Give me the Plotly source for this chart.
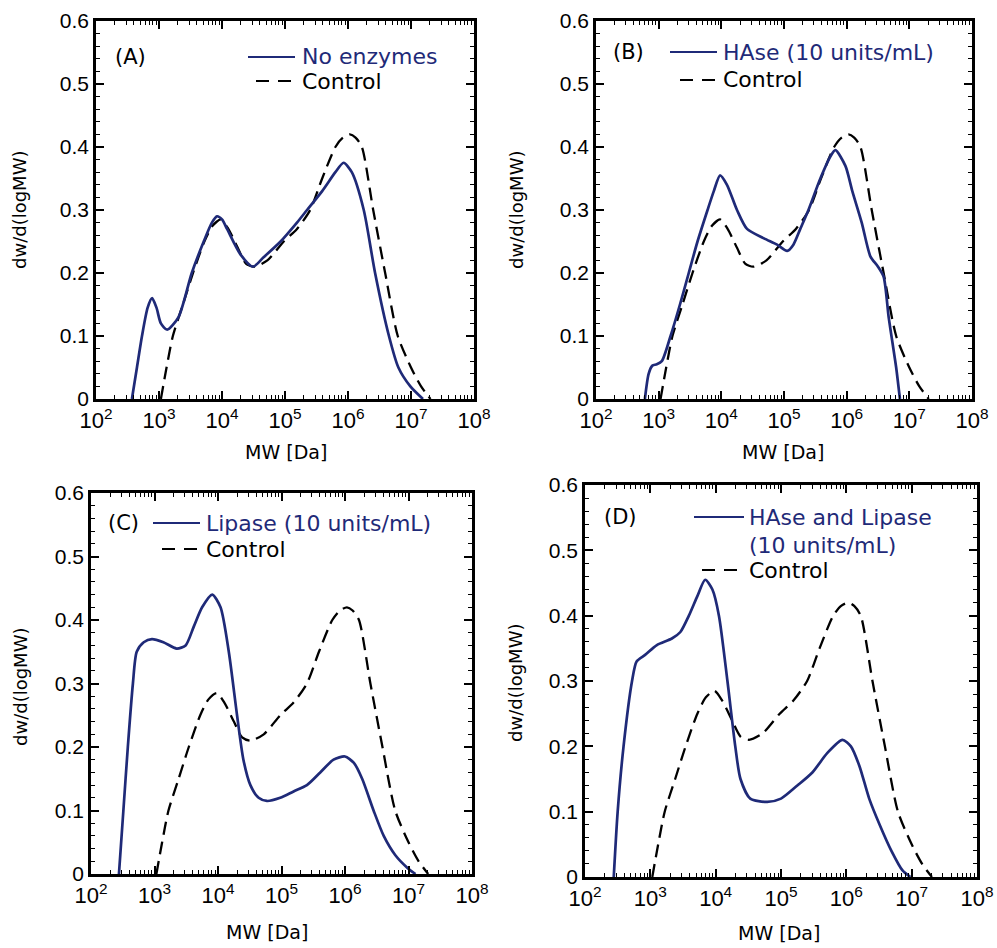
import plotly.graph_objects as go
from plotly.subplots import make_subplots

# ---------------- data (x stored as log10(MW), y = dw/d(logMW)) ----------------
control_logmw = [3.03, 3.12, 3.22, 3.38, 3.54, 3.72, 3.85, 3.98, 4.10, 4.25, 4.38, 4.51,
                 4.72, 4.98, 5.19, 5.40, 5.59, 5.80, 5.92, 6.03, 6.12, 6.22, 6.40, 6.59,
                 6.79, 7.00, 7.16, 7.31]
control_vals = [0.0, 0.05, 0.10, 0.15, 0.20, 0.25, 0.275, 0.285, 0.27, 0.24, 0.215, 0.21,
                0.22, 0.25, 0.27, 0.30, 0.35, 0.40, 0.415, 0.42, 0.415, 0.40, 0.30, 0.20,
                0.10, 0.05, 0.02, 0.0]

a_logmw = [2.57, 2.65, 2.73, 2.82, 2.89, 2.96, 3.03, 3.13, 3.31, 3.52, 3.71, 3.84, 3.92,
           4.00, 4.08, 4.29, 4.49, 4.66, 4.93, 5.19, 5.35, 5.59, 5.80, 5.93, 6.06, 6.25,
           6.43, 6.65, 6.80, 6.99, 7.19]
a_vals = [0.0, 0.05, 0.10, 0.145, 0.16, 0.145, 0.12, 0.11, 0.13, 0.20, 0.25, 0.28, 0.29,
          0.285, 0.27, 0.23, 0.21, 0.225, 0.25, 0.28, 0.30, 0.33, 0.36, 0.375, 0.36, 0.30,
          0.20, 0.10, 0.05, 0.02, 0.0]

b_logmw = [2.78, 2.84, 2.90, 2.97, 3.05, 3.19, 3.34, 3.48, 3.62, 3.78, 3.88, 3.98, 4.09,
           4.25, 4.41, 4.68, 4.89, 5.05, 5.15, 5.26, 5.39, 5.58, 5.74, 5.82, 5.98, 6.09,
           6.24, 6.38, 6.50, 6.59, 6.67, 6.73, 6.79, 6.85]
b_vals = [0.0, 0.04, 0.053, 0.055, 0.06, 0.10, 0.15, 0.20, 0.25, 0.30, 0.33, 0.355, 0.34,
          0.30, 0.27, 0.255, 0.245, 0.235, 0.245, 0.27, 0.30, 0.35, 0.385, 0.395, 0.37,
          0.33, 0.28, 0.226, 0.21, 0.194, 0.13, 0.09, 0.05, 0.0]

c_logmw = [2.44, 2.51, 2.58, 2.66, 2.72, 2.83, 2.96, 3.14, 3.35, 3.49, 3.62, 3.75, 3.91,
           4.04, 4.17, 4.30, 4.40, 4.51, 4.64, 4.77, 4.98, 5.19, 5.40, 5.61, 5.82, 6.00,
           6.14, 6.27, 6.45, 6.61, 6.79, 6.98, 7.11]
c_vals = [0.0, 0.10, 0.20, 0.30, 0.35, 0.365, 0.37, 0.365, 0.355, 0.36, 0.39, 0.42, 0.44,
          0.42, 0.35, 0.25, 0.18, 0.14, 0.12, 0.115, 0.12, 0.13, 0.14, 0.16, 0.18, 0.185,
          0.175, 0.15, 0.10, 0.06, 0.03, 0.01, 0.0]

d_logmw = [2.44, 2.50, 2.59, 2.72, 2.79, 2.92, 3.10, 3.33, 3.46, 3.59, 3.72, 3.84, 3.95,
           4.05, 4.18, 4.30, 4.38, 4.53, 4.79, 5.00, 5.25, 5.48, 5.71, 5.94, 6.07, 6.20,
           6.35, 6.51, 6.69, 6.86, 6.98]
d_vals = [0.0, 0.10, 0.20, 0.30, 0.33, 0.34, 0.355, 0.365, 0.375, 0.40, 0.43, 0.455, 0.44,
          0.40, 0.30, 0.20, 0.15, 0.12, 0.115, 0.12, 0.14, 0.16, 0.19, 0.21, 0.20, 0.17,
          0.12, 0.08, 0.04, 0.01, 0.0]

panel_letters = ["(A)", "(B)", "(C)", "(D)"]
series_names = ["No enzymes", "HAse (10 units/mL)", "Lipase (10 units/mL)",
                "HAse and Lipase<br>(10 units/mL)"]
control_name = "Control"
x_title = "MW [Da]"
y_title = "dw/d(logMW)"
x_tick_exps = [2, 3, 4, 5, 6, 7, 8]
y_tick_vals = [0, 0.1, 0.2, 0.3, 0.4, 0.5, 0.6]

W, H = 997, 948
BLUE = "#1f2a78"
TICKFONT = "Liberation Sans, Arial, sans-serif"
TEXTFONT = "DejaVu Sans, sans-serif"

# plot frames in pixels: (left, right, top, bottom)
frames = [(96, 474, 21, 399), (596, 972, 21, 399), (91, 472, 493, 874), (585, 977, 485, 877)]
# axis-title centres in pixels: (x-title x, y), (y-title x, y)
title_pos = [((286, 452), (20, 210)), ((783, 452), (517, 210)),
             ((267, 932), (20, 687)), ((779, 933), (515, 683))]

fig = make_subplots(rows=2, cols=2)
blue_sets = [(a_logmw, a_vals), (b_logmw, b_vals), (c_logmw, c_vals), (d_logmw, d_vals)]
cells = [(1, 1), (1, 2), (2, 1), (2, 2)]

for i, ((lx, ly), (r, c)) in enumerate(zip(blue_sets, cells)):
    fig.add_trace(go.Scatter(x=[10 ** v for v in control_logmw], y=control_vals, mode="lines",
                             line=dict(color="black", width=2.3, dash="13px,7px", shape="spline",
                                       smoothing=0.7),
                             showlegend=False, name=control_name), row=r, col=c)
    fig.add_trace(go.Scatter(x=[10 ** v for v in lx], y=ly, mode="lines",
                             line=dict(color=BLUE, width=2.7, shape="spline", smoothing=0.7),
                             showlegend=False, name=series_names[i]), row=r, col=c)

minor_x = [k * 10 ** e for e in range(2, 8) for k in range(2, 10)]


def px2paper(x, y):
    return x / W, 1 - y / H


annotations = []
shapes = []
for i, (L, R, T, B) in enumerate(frames):
    sfx = "" if i == 0 else str(i + 1)
    fig.layout["xaxis" + sfx].update(
        domain=[L / W, R / W], type="log", range=[2, 8], automargin=False,
        tickvals=[10 ** e for e in x_tick_exps],
        ticktext=["10<sup>%d</sup>" % e for e in x_tick_exps],
        ticks="inside", ticklen=8, tickwidth=1.5, tickcolor="black",
        showline=True, linecolor="black", linewidth=2.6, mirror="allticks",
        showgrid=False, zeroline=False,
        tickfont=dict(family=TICKFONT, size=22, color="black"),
        minor=dict(tickvals=minor_x, ticks="inside", ticklen=4, tickcolor="black",
                   tickwidth=1.2, showgrid=False),
    )
    fig.layout["yaxis" + sfx].update(
        domain=[1 - B / H, 1 - T / H], range=[0, 0.6], automargin=False,
        tickvals=y_tick_vals, ticktext=["0" if v == 0 else "%.1f" % v for v in y_tick_vals],
        ticks="inside", ticklen=8, tickwidth=1.5, tickcolor="black",
        showline=True, linecolor="black", linewidth=2.6, mirror="allticks",
        showgrid=False, zeroline=False,
        tickfont=dict(family=TICKFONT, size=21, color="black"),
        minor=dict(dtick=0.02, ticks="inside", ticklen=4, tickcolor="black",
                   tickwidth=1.2, showgrid=False),
    )
    (xtx, xty), (ytx, yty) = title_pos[i]
    X, Y = px2paper(xtx, xty)
    annotations.append(dict(x=X, y=Y, xref="paper", yref="paper", text=x_title,
                            showarrow=False, xanchor="center", yanchor="middle",
                            font=dict(family=TEXTFONT, size=19, color="black")))
    X, Y = px2paper(ytx, yty)
    annotations.append(dict(x=X, y=Y, xref="paper", yref="paper", text=y_title,
                            showarrow=False, xanchor="center", yanchor="middle", textangle=-90,
                            font=dict(family=TEXTFONT, size=18, color="black")))

# legend-like labels drawn in paper coordinates (pixel positions of the reference)
legend_specs = [
    # letter pos, blue sample (x0,x1,y), text x, control sample (x0,x1,y)
    ((130, 57), (248, 295, 57), 300, (256, 295, 81)),
    ((628, 52), (670, 717, 52), 721, (680, 717, 80)),
    ((123, 523), (153, 200, 523), 204, (162, 200, 549)),
    ((620, 517), (694, 744, 517), 747, (702, 744, 570)),
]

LEGSIZE = 22
for i, ((lx, ly), (bx0, bx1, by), tx, (cx0, cx1, cy)) in enumerate(legend_specs):
    X, Y = px2paper(lx, ly)
    annotations.append(dict(x=X, y=Y, xref="paper", yref="paper", text=panel_letters[i],
                            showarrow=False, xanchor="center", yanchor="middle",
                            font=dict(family=TEXTFONT, size=21, color="black")))
    x0, y0 = px2paper(bx0, by)
    x1, _ = px2paper(bx1, by)
    shapes.append(dict(type="line", xref="paper", yref="paper", x0=x0, x1=x1, y0=y0, y1=y0,
                       line=dict(color=BLUE, width=2)))
    x0, y0 = px2paper(cx0, cy)
    x1, _ = px2paper(cx1, cy)
    shapes.append(dict(type="line", xref="paper", yref="paper", x0=x0, x1=x1, y0=y0, y1=y0,
                       line=dict(color="black", width=2, dash="13px,9px")))
    parts = series_names[i].split("<br>")
    for k, part in enumerate(parts):
        tX, tY = px2paper(tx, by + 28 * k)
        annotations.append(dict(x=tX, y=tY, xref="paper", yref="paper", text=part,
                                showarrow=False, xanchor="left", yanchor="middle",
                                font=dict(family=TEXTFONT, size=LEGSIZE, color=BLUE)))
    cX, cY = px2paper(tx, cy)
    annotations.append(dict(x=cX, y=cY, xref="paper", yref="paper", text=control_name,
                            showarrow=False, xanchor="left", yanchor="middle",
                            font=dict(family=TEXTFONT, size=LEGSIZE, color="black")))

fig.update_layout(width=W, height=H, margin=dict(l=0, r=0, t=0, b=0),
                  paper_bgcolor="white", plot_bgcolor="white",
                  shapes=shapes, annotations=annotations, showlegend=False)

fig.write_html("out.html", config={"displayModeBar": False},
               post_script="document.body.style.margin='0';document.body.style.overflow='hidden';")
